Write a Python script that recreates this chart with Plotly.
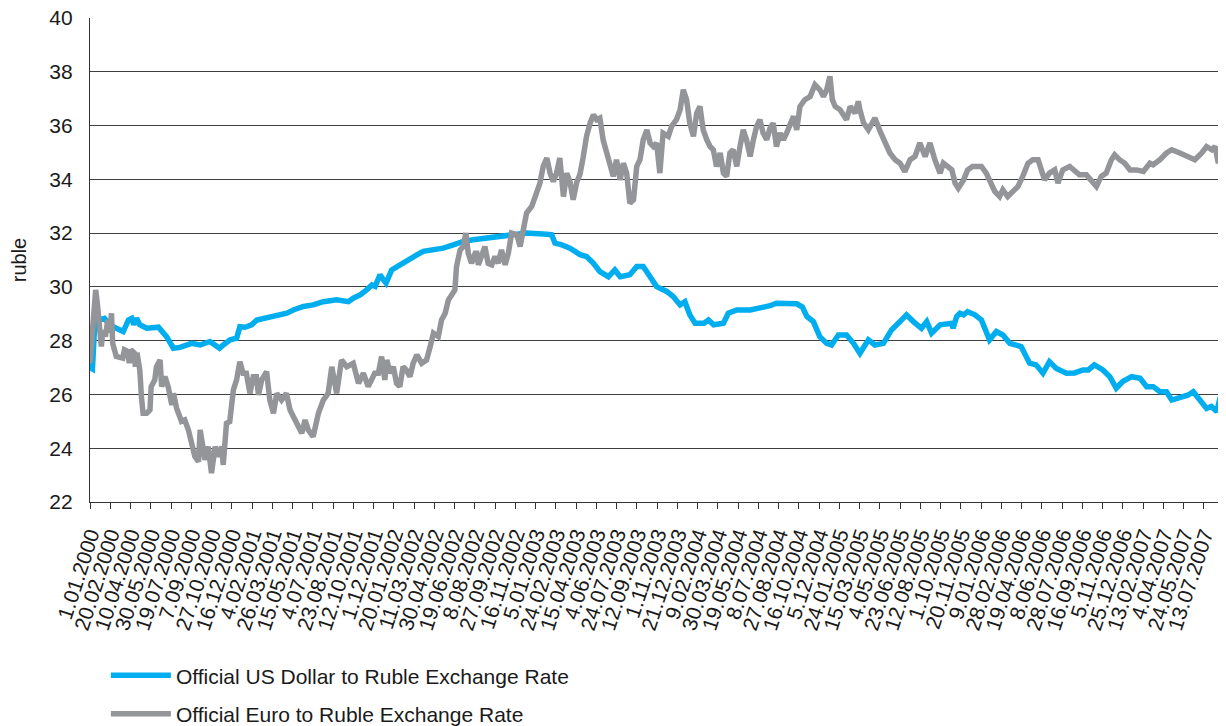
import plotly.graph_objects as go
import pandas as pd

# values (ruble per unit)
usd_dates = [
    "2000-01-01", "2000-01-07", "2000-01-12", "2000-01-18", "2000-02-06", "2000-02-18", "2000-03-06",
    "2000-03-23", "2000-04-05", "2000-04-13", "2000-04-18", "2000-04-25", "2000-05-03", "2000-05-20",
    "2000-06-18", "2000-07-08", "2000-07-25", "2000-08-10", "2000-09-08", "2000-09-29", "2000-10-23",
    "2000-11-16", "2000-11-25", "2000-12-12", "2000-12-28", "2001-01-05", "2001-01-18", "2001-02-03",
    "2001-02-16", "2001-03-04", "2001-04-06", "2001-05-01", "2001-05-17", "2001-06-11", "2001-07-05",
    "2001-07-30", "2001-09-01", "2001-09-30", "2001-10-12", "2001-10-29", "2001-11-14", "2001-11-27",
    "2001-12-05", "2001-12-17", "2001-12-24", "2002-01-01", "2002-01-15", "2002-02-04", "2002-03-01",
    "2002-03-18", "2002-04-03", "2002-04-28", "2002-05-22", "2002-06-16", "2002-07-11", "2002-08-04",
    "2002-09-15", "2002-10-09", "2002-11-11", "2002-12-14", "2003-01-08", "2003-02-02", "2003-02-14",
    "2003-02-22", "2003-03-11", "2003-03-31", "2003-04-25", "2003-05-11", "2003-05-28", "2003-06-13",
    "2003-07-04", "2003-07-20", "2003-08-02", "2003-08-26", "2003-09-12", "2003-09-28", "2003-10-15",
    "2003-10-31", "2003-11-25", "2003-12-11", "2003-12-28", "2004-01-09", "2004-01-21", "2004-02-03",
    "2004-02-25", "2004-03-07", "2004-03-20", "2004-04-13", "2004-04-25", "2004-05-16", "2004-06-18",
    "2004-07-12", "2004-08-06", "2004-08-22", "2004-10-11", "2004-10-25", "2004-11-05", "2004-11-21",
    "2004-12-07", "2004-12-24", "2005-01-05", "2005-01-22", "2005-02-11", "2005-02-28", "2005-03-16",
    "2005-04-06", "2005-04-22", "2005-05-13", "2005-06-02", "2005-06-23", "2005-07-09", "2005-07-26",
    "2005-08-15", "2005-08-28", "2005-09-09", "2005-09-30", "2005-10-29", "2005-11-01", "2005-11-10",
    "2005-11-18", "2005-11-27", "2005-12-07", "2005-12-25", "2006-01-10", "2006-01-22", "2006-01-30",
    "2006-02-16", "2006-03-04", "2006-03-21", "2006-04-18", "2006-05-09", "2006-05-25", "2006-06-11",
    "2006-06-27", "2006-07-14", "2006-08-08", "2006-08-28", "2006-09-18", "2006-10-01", "2006-10-16",
    "2006-11-06", "2006-11-23", "2006-12-09", "2006-12-25", "2007-01-16", "2007-02-06", "2007-02-22",
    "2007-03-10", "2007-03-27", "2007-04-12", "2007-04-25", "2007-05-15", "2007-06-05", "2007-06-17",
    "2007-07-04", "2007-07-20", "2007-08-01", "2007-08-14", "2007-08-22", "2007-08-31",
]
usd_values = [
    27.00, 26.95, 28.40, 28.75, 28.83, 28.59, 28.46,
    28.34, 28.77, 28.83, 28.60, 28.83, 28.59, 28.46,
    28.50, 28.15, 27.72, 27.75, 27.90, 27.84, 27.97,
    27.72, 27.84, 28.03, 28.09, 28.52, 28.50, 28.59,
    28.77, 28.83, 28.96, 29.02, 29.14, 29.27, 29.33,
    29.45, 29.52, 29.45, 29.58, 29.70, 29.89, 30.07,
    30.02, 30.45, 30.30, 30.14, 30.63, 30.82, 31.07,
    31.19, 31.32, 31.38, 31.44, 31.56, 31.69, 31.75,
    31.81, 31.85, 31.94, 32.00, 32.00, 31.96, 31.94,
    31.63, 31.56, 31.44, 31.20, 31.13, 30.88, 30.57,
    30.38, 30.63, 30.38, 30.45, 30.76, 30.76, 30.38,
    30.01, 29.83, 29.64, 29.33, 29.45, 28.96, 28.65,
    28.65, 28.77, 28.59, 28.65, 29.02, 29.14, 29.14,
    29.21, 29.30, 29.39, 29.37, 29.25, 28.90, 28.71,
    28.15, 27.90, 27.84, 28.21, 28.21, 27.90, 27.53,
    28.03, 27.84, 27.90, 28.40, 28.71, 28.96, 28.71,
    28.46, 28.71, 28.28, 28.59, 28.65, 28.46, 28.90,
    29.02, 28.96, 29.08, 28.96, 28.77, 28.34, 28.03,
    28.34, 28.21, 27.90, 27.78, 27.16, 27.10, 26.79,
    27.22, 26.97, 26.79, 26.80, 26.91, 26.91, 27.10,
    26.91, 26.66, 26.23, 26.48, 26.66, 26.60, 26.29,
    26.29, 26.10, 26.10, 25.79, 25.86, 25.98, 26.10,
    25.79, 25.48, 25.55, 25.36, 25.86, 26.04,
]

eur_dates = [
    "2000-01-01", "2000-01-06", "2000-01-10", "2000-01-15", "2000-01-19", "2000-01-23", "2000-01-29",
    "2000-02-02", "2000-02-08", "2000-02-14", "2000-02-19", "2000-02-23", "2000-02-26", "2000-03-06",
    "2000-03-22", "2000-03-26", "2000-04-03", "2000-04-07", "2000-04-11", "2000-04-19", "2000-04-22",
    "2000-04-26", "2000-05-03", "2000-05-07", "2000-05-11", "2000-05-20", "2000-05-28", "2000-05-31",
    "2000-06-09", "2000-06-13", "2000-06-22", "2000-06-26", "2000-07-04", "2000-07-12", "2000-07-21",
    "2000-07-25", "2000-08-02", "2000-08-14", "2000-08-22", "2000-08-31", "2000-09-08", "2000-09-16",
    "2000-09-25", "2000-09-29", "2000-10-03", "2000-10-11", "2000-10-19", "2000-10-27", "2000-11-05",
    "2000-11-13", "2000-11-21", "2000-11-25", "2000-12-03", "2000-12-11", "2000-12-20", "2000-12-28",
    "2001-01-05", "2001-01-13", "2001-01-21", "2001-01-30", "2001-02-07", "2001-02-15", "2001-02-20",
    "2001-02-28", "2001-03-12", "2001-03-20", "2001-03-29", "2001-04-06", "2001-04-18", "2001-04-30",
    "2001-05-09", "2001-05-25", "2001-06-07", "2001-06-15", "2001-06-23", "2001-07-05", "2001-07-18",
    "2001-07-30", "2001-08-11", "2001-08-20", "2001-09-01", "2001-09-13", "2001-09-26", "2001-10-12",
    "2001-10-25", "2001-11-06", "2001-11-18", "2001-12-04", "2001-12-13", "2001-12-21", "2001-12-29",
    "2002-01-03", "2002-01-11", "2002-01-19", "2002-01-27", "2002-02-04", "2002-02-12", "2002-02-20",
    "2002-03-01", "2002-03-09", "2002-03-18", "2002-03-30", "2002-04-11", "2002-04-20", "2002-04-28",
    "2002-05-10", "2002-05-18", "2002-05-27", "2002-06-04", "2002-06-12", "2002-06-20", "2002-06-24",
    "2002-07-03", "2002-07-11", "2002-07-17", "2002-07-23", "2002-07-31", "2002-08-09", "2002-08-13",
    "2002-08-17", "2002-08-25", "2002-09-02", "2002-09-10", "2002-09-19", "2002-09-27", "2002-10-05",
    "2002-10-13", "2002-10-22", "2002-10-30", "2002-11-07", "2002-11-20", "2002-11-28", "2002-12-06",
    "2002-12-14", "2002-12-27", "2003-01-04", "2003-01-16", "2003-01-24", "2003-02-02", "2003-02-10",
    "2003-02-18", "2003-02-26", "2003-03-06", "2003-03-15", "2003-03-23", "2003-03-31", "2003-04-08",
    "2003-04-17", "2003-04-25", "2003-05-03", "2003-05-11", "2003-05-20", "2003-05-28", "2003-06-05",
    "2003-06-13", "2003-06-21", "2003-06-30", "2003-07-08", "2003-07-16", "2003-07-24", "2003-08-02",
    "2003-08-10", "2003-08-18", "2003-08-26", "2003-09-04", "2003-09-12", "2003-09-20", "2003-09-28",
    "2003-10-07", "2003-10-15", "2003-10-23", "2003-10-31", "2003-11-08", "2003-11-16", "2003-11-29",
    "2003-12-07", "2003-12-19", "2003-12-28", "2004-01-05", "2004-01-13", "2004-01-21", "2004-01-30",
    "2004-02-07", "2004-02-15", "2004-02-23", "2004-03-03", "2004-03-11", "2004-03-19", "2004-03-27",
    "2004-04-05", "2004-04-13", "2004-04-21", "2004-04-29", "2004-05-07", "2004-05-16", "2004-05-24",
    "2004-06-01", "2004-06-09", "2004-06-18", "2004-06-26", "2004-07-04", "2004-07-12", "2004-07-20",
    "2004-07-29", "2004-08-06", "2004-08-14", "2004-08-22", "2004-08-31", "2004-09-08", "2004-09-16",
    "2004-09-24", "2004-10-03", "2004-10-11", "2004-10-19", "2004-10-31", "2004-11-13", "2004-11-25",
    "2004-12-07", "2004-12-16", "2004-12-24", "2005-01-01", "2005-01-07", "2005-01-14", "2005-01-26",
    "2005-02-11", "2005-02-20", "2005-03-04", "2005-03-12", "2005-03-16", "2005-03-25", "2005-04-06",
    "2005-04-22", "2005-05-05", "2005-05-17", "2005-05-29", "2005-06-11", "2005-06-23", "2005-07-05",
    "2005-07-18", "2005-07-30", "2005-08-11", "2005-08-24", "2005-09-05", "2005-09-17", "2005-09-30",
    "2005-10-08", "2005-10-16", "2005-10-29", "2005-11-06", "2005-11-14", "2005-11-27", "2005-12-07",
    "2005-12-19", "2006-01-10", "2006-01-22", "2006-01-30", "2006-02-12", "2006-02-24", "2006-03-04",
    "2006-03-16", "2006-03-29", "2006-04-10", "2006-04-22", "2006-05-05", "2006-05-17", "2006-05-30",
    "2006-06-07", "2006-06-15", "2006-06-27", "2006-07-10", "2006-07-18", "2006-07-30", "2006-08-16",
    "2006-08-28", "2006-09-09", "2006-09-26", "2006-10-08", "2006-10-21", "2006-11-02", "2006-11-14",
    "2006-11-27", "2006-12-05", "2006-12-17", "2006-12-30", "2007-01-12", "2007-01-28", "2007-02-14",
    "2007-03-02", "2007-03-10", "2007-03-27", "2007-04-12", "2007-04-25", "2007-05-15", "2007-06-05",
    "2007-06-21", "2007-07-08", "2007-07-20", "2007-08-02", "2007-08-10", "2007-08-18", "2007-08-26",
    "2007-08-31",
]
eur_values = [
    27.16, 28.15, 29.14, 29.89, 29.40, 28.77, 27.78,
    28.40, 28.15, 28.77, 28.30, 29.02, 27.90, 27.41,
    27.35, 27.66, 27.60, 27.16, 27.66, 27.55, 27.03,
    27.55, 26.91, 25.92, 25.30, 25.30, 25.42, 26.29,
    26.54, 27.03, 27.28, 26.29, 26.66, 26.29, 25.61,
    26.04, 25.48, 25.00, 25.05, 24.68, 24.18, 23.69,
    23.50, 24.68, 24.31, 23.57, 24.06, 23.07, 24.06,
    23.69, 24.06, 23.38, 24.93, 24.99, 26.17, 26.54,
    27.22, 26.79, 26.79, 26.04, 26.66, 26.66, 25.98,
    26.54, 26.85, 25.79, 25.30, 26.04, 25.79, 26.04,
    25.42, 24.93, 24.56, 25.05, 24.68, 24.43, 25.30,
    25.79, 26.04, 27.03, 26.04, 27.28, 27.03, 27.16,
    26.41, 26.79, 26.29, 26.79, 26.79, 27.41, 26.54,
    27.28, 26.79, 27.03, 26.41, 26.29, 27.03, 26.91,
    26.66, 27.16, 27.47, 27.16, 27.28, 27.78, 28.28,
    28.15, 28.77, 29.02, 29.52, 29.70, 29.89, 30.76,
    31.38, 31.50, 32.00, 31.25, 30.88, 31.25, 31.25,
    30.82, 31.25, 31.50, 30.88, 30.82, 31.13, 30.88,
    31.38, 30.82, 31.25, 32.00, 31.94, 31.50, 32.13,
    32.75, 33.00, 33.38, 33.86, 34.48, 34.79, 34.23,
    33.92, 34.23, 34.79, 33.36, 34.23, 33.92, 33.24,
    33.90, 34.20, 34.85, 35.60, 36.10, 36.40, 36.22,
    36.28, 35.47, 34.98, 34.48, 34.11, 34.73, 33.98,
    34.60, 34.23, 33.11, 33.24, 34.48, 34.73, 35.47,
    35.84, 35.35, 35.22, 35.35, 34.23, 35.72, 35.60,
    35.97, 36.22, 36.59, 37.33, 36.96, 36.09, 35.60,
    36.46, 36.71, 35.84, 35.47, 35.22, 35.10, 34.48,
    34.98, 34.23, 34.11, 34.98, 35.10, 34.48, 35.22,
    35.84, 35.47, 34.85, 35.47, 35.97, 36.22, 35.72,
    35.47, 35.90, 36.09, 35.22, 35.72, 35.47, 35.72,
    35.97, 36.34, 35.84, 36.71, 36.96, 37.08, 37.52,
    37.33, 37.08, 37.33, 37.83, 36.96, 36.71, 36.59,
    36.22, 36.71, 36.46, 36.90, 36.59, 36.10, 35.84,
    36.28, 35.78, 35.35, 34.98, 34.73, 34.60, 34.29,
    34.73, 34.85, 35.35, 34.85, 35.35, 34.73, 34.23,
    34.60, 34.48, 34.35, 33.86, 33.67, 33.98, 34.35,
    34.48, 34.48, 34.23, 33.98, 33.55, 33.36, 33.61,
    33.36, 33.55, 33.73, 34.11, 34.60, 34.73, 34.73,
    34.35, 33.98, 34.23, 34.35, 33.86, 34.35, 34.48,
    34.35, 34.17, 34.17, 33.92, 33.73, 34.11, 34.23,
    34.73, 34.91, 34.73, 34.60, 34.35, 34.35, 34.29,
    34.60, 34.54, 34.73, 34.98, 35.10, 34.98, 34.85,
    34.73, 34.98, 35.22, 35.10, 35.22, 34.60, 35.04,
    35.22,
]

series_names = [
    "Official US Dollar to Ruble Exchange Rate",
    "Official Euro to Ruble Exchange Rate",
]
series_colors = ["#00AEEF", "#939598"]

# axis ticks: one every 50 days from 1.01.2000, the last one left unlabeled
tick_dates = pd.date_range("2000-01-01", periods=57, freq="50D")
tick_labels = [f"{d.day}.{d.month:02d}.{d.year}" for d in tick_dates]
tick_labels[-1] = ""

font_family = "Liberation Sans, Arial, sans-serif"

fig = go.Figure()
for i, (dates, values) in enumerate([(usd_dates, usd_values), (eur_dates, eur_values)]):
    fig.add_trace(go.Scatter(
        x=pd.to_datetime(dates),
        y=values,
        mode="lines",
        name=series_names[i],
        legendgroup=f"g{i}",
        line=dict(color=series_colors[i], width=5.5),
    ))

fig.update_xaxes(
    type="date",
    range=[tick_dates[0], tick_dates[-1]],
    tickvals=tick_dates,
    ticktext=tick_labels,
    tickangle=-72,
    ticks="outside",
    ticklen=6,
    tickcolor="#333333",
    ticklabelstandoff=5,
    showgrid=False,
    showline=True,
    linecolor="#333333",
    linewidth=1.3,
    tickfont=dict(size=21, color="#1a1a1a"),
    automargin=False,
)
fig.update_yaxes(
    range=[22, 40],
    tickvals=list(range(22, 41, 2)),
    showgrid=True,
    gridcolor="#3f3f3f",
    gridwidth=1.3,
    showline=True,
    linecolor="#333333",
    linewidth=1.3,
    zeroline=False,
    ticklabelstandoff=12,
    ticklabeloverflow="allow",
    tickfont=dict(size=21, color="#1a1a1a"),
    title=dict(text="ruble", font=dict(size=20, color="#1a1a1a"), standoff=18),
    automargin=False,
)
# the page body adds an 8px offset, so the figure is 8px smaller and margins shifted
fig.update_layout(
    width=1218,
    height=718,
    margin=dict(l=82, r=2, t=10, b=224, autoexpand=False),
    paper_bgcolor="white",
    plot_bgcolor="white",
    font=dict(family=font_family, color="#1a1a1a"),
    showlegend=True,
    legend=dict(
        x=0.014, y=-0.3165, xanchor="left", yanchor="top",
        orientation="v",
        traceorder="grouped",
        tracegroupgap=8,
        font=dict(size=21, color="#1a1a1a"),
        itemwidth=60,
        bgcolor="rgba(0,0,0,0)",
    ),
)

fig.write_html("out.html")
